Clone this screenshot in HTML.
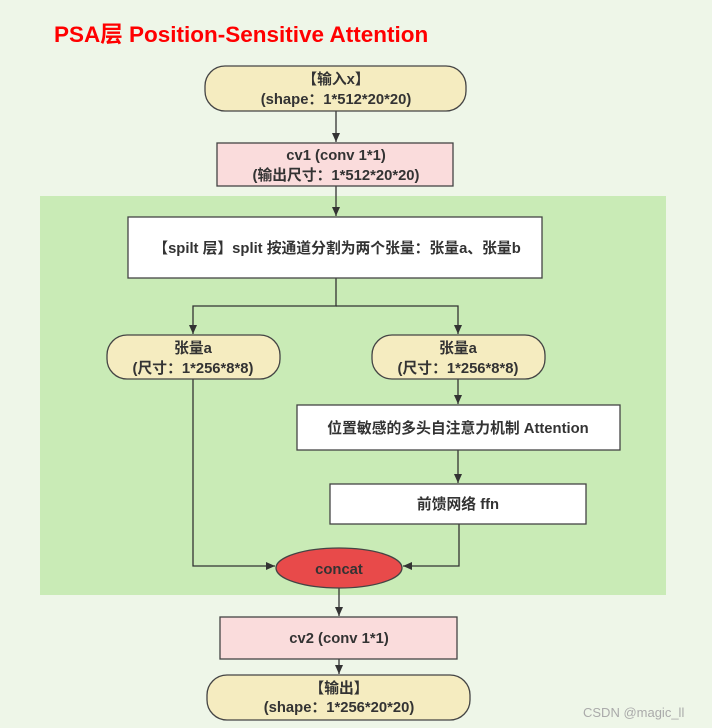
<!DOCTYPE html>
<html><head><meta charset="utf-8"><style>
html,body{margin:0;padding:0;background:#eef6e8;}
svg{display:block;}
text{font-family:"Liberation Sans","Noto Sans CJK SC",sans-serif;font-weight:bold;fill:#333;font-size:14.8px;}
</style></head><body>
<svg width="712" height="728" viewBox="0 0 712 728" xmlns="http://www.w3.org/2000/svg">
<defs><marker id="a" markerWidth="10" markerHeight="10" refX="9" refY="5" orient="auto" markerUnits="userSpaceOnUse"><path d="M0,1 L9,5 L0,9 Z" fill="#333"/></marker></defs>
<rect x="0" y="0" width="712" height="728" fill="#eef6e8"/>
<rect x="40" y="196" width="626" height="399" fill="#c9ebb6"/>
<text x="54" y="42" style="fill:#f00;font-size:22.5px">PSA层 Position-Sensitive Attention</text>
<g stroke="#333" stroke-width="1.3" fill="none">
<line x1="336" y1="111" x2="336" y2="142" marker-end="url(#a)"/>
<line x1="336" y1="186" x2="336" y2="216" marker-end="url(#a)"/>
<polyline points="336,278 336,306 193,306 193,334" marker-end="url(#a)"/>
<polyline points="336,306 458,306 458,334" marker-end="url(#a)"/>
<line x1="458" y1="379" x2="458" y2="404" marker-end="url(#a)"/>
<line x1="458" y1="450" x2="458" y2="483" marker-end="url(#a)"/>
<polyline points="193,379 193,566 275,566" marker-end="url(#a)"/>
<polyline points="459,524 459,566 403,566" marker-end="url(#a)"/>
<line x1="339" y1="583" x2="339" y2="616" marker-end="url(#a)"/>
<line x1="339" y1="659" x2="339" y2="674" marker-end="url(#a)"/>
</g>
<g stroke="#444" stroke-width="1.3">
<rect x="205" y="66" width="261" height="45" rx="20" fill="#f5ecc0"/>
<rect x="217" y="143" width="236" height="43" fill="#fadcdc"/>
<rect x="128" y="217" width="414" height="61" fill="#fff"/>
<rect x="107" y="335" width="173" height="44" rx="20" fill="#f5ecc0"/>
<rect x="372" y="335" width="173" height="44" rx="20" fill="#f5ecc0"/>
<rect x="297" y="405" width="323" height="45" fill="#fff"/>
<rect x="330" y="484" width="256" height="40" fill="#fff"/>
<ellipse cx="339" cy="568" rx="63" ry="20" fill="#e84a4a"/>
<rect x="220" y="617" width="237" height="42" fill="#fadcdc"/>
<rect x="207" y="675" width="263" height="45" rx="20" fill="#f5ecc0"/>
</g>
<g text-anchor="middle">
<text x="336" y="84">【输入x】</text>
<text x="336" y="104">(shape：1*512*20*20)</text>
<text x="336" y="160">cv1 (conv 1*1)</text>
<text x="336" y="180">(输出尺寸：1*512*20*20)</text>
<text x="337" y="253">【spilt 层】split 按通道分割为两个张量：张量a、张量b</text>
<text x="193" y="353">张量a</text>
<text x="193" y="373">(尺寸：1*256*8*8)</text>
<text x="458" y="353">张量a</text>
<text x="458" y="373">(尺寸：1*256*8*8)</text>
<text x="458" y="433">位置敏感的多头自注意力机制 Attention</text>
<text x="458" y="509">前馈网络 ffn</text>
<text x="339" y="574">concat</text>
<text x="339" y="643">cv2 (conv 1*1)</text>
<text x="339" y="693">【输出】</text>
<text x="339" y="712">(shape：1*256*20*20)</text>
</g>
<text x="583" y="717" style="font-weight:normal;font-size:13px;fill:#aaa">CSDN @magic_ll</text>
</svg>
</body></html>
